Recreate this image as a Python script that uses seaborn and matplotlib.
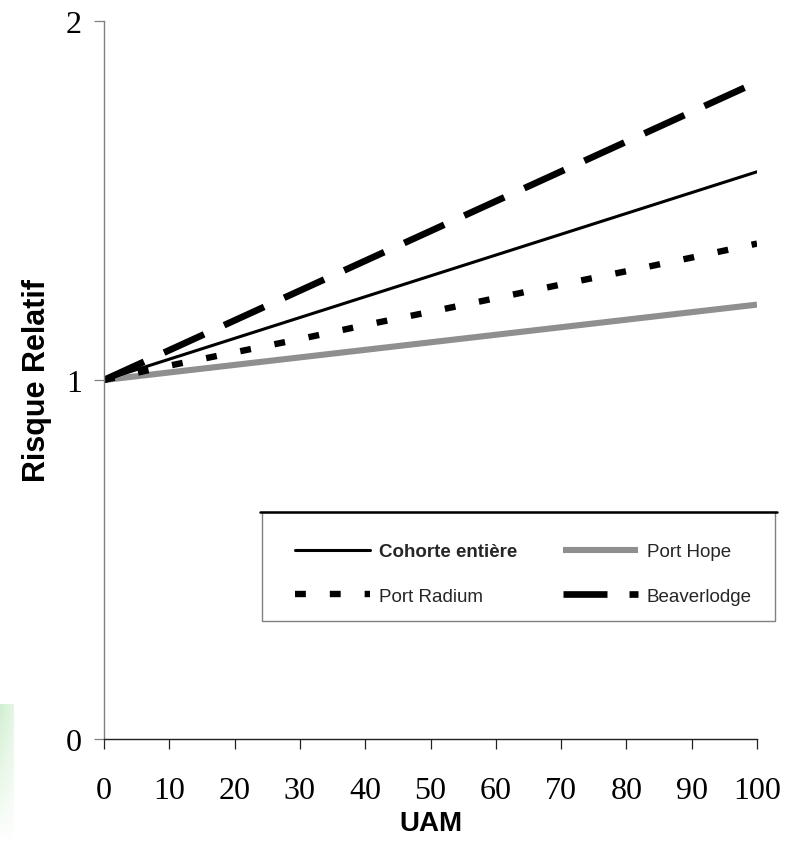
import matplotlib.pyplot as plt
import seaborn as sns
import pandas as pd
import numpy as np
from matplotlib.lines import Line2D
from matplotlib.patches import Rectangle

# relative risk vs. cumulative exposure (UAM)
uam = [0, 10, 20, 30, 40, 50, 60, 70, 80, 90, 100]
cohorte = [1.0, 1.058, 1.116, 1.174, 1.232, 1.29, 1.348, 1.406, 1.464, 1.522, 1.58]
port_hope = [1.0, 1.021, 1.042, 1.063, 1.084, 1.105, 1.126, 1.147, 1.168, 1.189, 1.21]
port_radium = [1.0, 1.04, 1.077, 1.114, 1.153, 1.19, 1.228, 1.266, 1.303, 1.341, 1.38]
beaverlodge = [1.0, 1.083, 1.166, 1.249, 1.332, 1.415, 1.498, 1.581, 1.664, 1.747, 1.83]

x_ticks = [0, 10, 20, 30, 40, 50, 60, 70, 80, 90, 100]
y_ticks = [0, 1, 2]

sns.set_style('ticks')
plt.rcParams['font.family'] = ['Liberation Sans', 'DejaVu Sans']

W, H = 787, 845
fig = plt.figure(figsize=(W / 100, H / 100), dpi=100)
ax = fig.add_axes([104/W, 1 - 740/H, (757 - 104)/W, (740 - 22)/H])

df = pd.DataFrame({'UAM': uam, 'cohorte': cohorte, 'hope': port_hope,
                   'radium': port_radium, 'beaver': beaverlodge})

dot_dash = (1.7, 3.75)
long_dash = (6.6, 3.3)

sns.lineplot(data=df, x='UAM', y='hope', ax=ax, color='#8f8f8f', lw=4.4,
             solid_capstyle='butt')
sns.lineplot(data=df, x='UAM', y='radium', ax=ax, color='black', lw=4.6,
             dashes=dot_dash)
sns.lineplot(data=df, x='UAM', y='cohorte', ax=ax, color='black', lw=2.2)
sns.lineplot(data=df, x='UAM', y='beaver', ax=ax, color='black', lw=4.8,
             dashes=long_dash)
for ln in ax.lines:
    ln.set_dash_capstyle('butt')

ax.set_xlim(0, 100)
ax.set_ylim(0, 2)
ax.set_xticks(x_ticks)
ax.set_yticks(y_ticks)
ax.tick_params(axis='both', direction='out', length=7, width=0.9,
               labelsize=23, labelcolor='black')
ax.tick_params(axis='x', color='#222222', pad=20)
ax.tick_params(axis='y', color='#808080', pad=9)
for lab in ax.get_xticklabels() + ax.get_yticklabels():
    lab.set_family('Liberation Serif')
sns.despine(ax=ax)
ax.spines['left'].set_color('#808080')
ax.spines['bottom'].set_color('#222222')
ax.spines['left'].set_linewidth(1.0)
ax.spines['bottom'].set_linewidth(1.0)

ax.set_xlabel('UAM', fontsize=20, fontweight='bold', labelpad=3, color='black')
ax.set_ylabel('Risque Relatif', fontsize=22, fontweight='bold', labelpad=10,
              color='black')

# legend box: thin grey frame with a thick black top edge
fig.add_artist(Rectangle((262/W, 1 - 622/H), (775 - 262)/W, (622 - 513)/H,
                         transform=fig.transFigure, facecolor='white',
                         edgecolor='#808080', lw=1.0, zorder=3))
fig.add_artist(Line2D([260/W, 777/W], [1 - 513/H, 1 - 513/H],
                      color='black', lw=1.8, transform=fig.transFigure, zorder=4))

handles = [
    Line2D([], [], color='black', lw=2.2),
    Line2D([], [], color='black', lw=4.6, dashes=dot_dash, dash_capstyle='butt'),
    Line2D([], [], color='#8f8f8f', lw=4.4, solid_capstyle='butt'),
    Line2D([], [], color='black', lw=4.8, dashes=long_dash, dash_capstyle='butt'),
]
labels = ['Cohorte entière', 'Port Radium', 'Port Hope', 'Beaverlodge']
leg = fig.legend(handles, labels, ncol=2, loc='center',
                 bbox_to_anchor=(295/W, 1 - 575/H, (752 - 295)/W, 0.0),
                 mode='expand', fontsize=13.5, frameon=False,
                 borderpad=0, handlelength=4.0, handletextpad=0.5,
                 labelspacing=1.45, borderaxespad=0)
leg.set_zorder(5)
leg.get_texts()[0].set_fontweight('bold')

# faint green slide decoration at bottom left
gax = fig.add_axes([0, 0, 14/W, 140/H])
grad = np.linspace(0, 1, 50)[:, None] * np.linspace(1, 0.6, 10)[None, :]
rgba = np.zeros((50, 10, 4))
rgba[..., 0] = 0.82
rgba[..., 1] = 0.94
rgba[..., 2] = 0.82
rgba[..., 3] = grad
gax.imshow(rgba, origin='lower', aspect='auto')
gax.axis('off')

fig.savefig('out.png', dpi=100)
